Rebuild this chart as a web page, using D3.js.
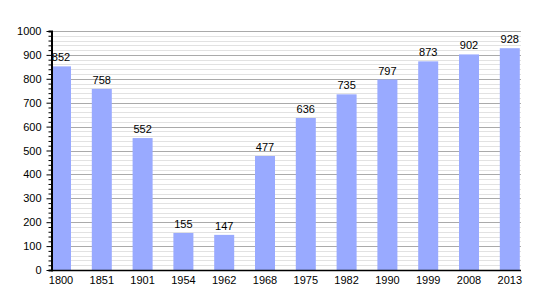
<!DOCTYPE html>
<html>
<head>
<meta charset="utf-8">
<script src="https://cdn.jsdelivr.net/npm/d3@7"></script>
<style>
  body { margin: 0; background: #fff; }
  svg text { font-family: "Liberation Sans", Arial, sans-serif; font-size: 11px; fill: #000; }
</style>
</head>
<body>
<div id="chart"></div>
<script>
// population by census year
const years = ["1800", "1851", "1901", "1954", "1962", "1968", "1975", "1982", "1990", "1999", "2008", "2013"];
const population = [852, 758, 552, 155, 147, 477, 636, 735, 797, 873, 902, 928];
const yTickValues = [0, 100, 200, 300, 400, 500, 600, 700, 800, 900, 1000];

const width = 550, height = 300;
const plotLeft = 51, plotRight = 521, plotTop = 31, plotBottom = 270;

const svg = d3.select('#chart')
  .append('svg')
  .attr('width', width)
  .attr('height', height);

const y = d3.scaleLinear().domain([0, 1000]).range([plotBottom, plotTop]);

// bars sit at the left of each band, last one ends at the plot edge
const x = d3.scaleBand()
  .domain(years)
  .range([plotLeft, plotLeft + 12 * 40.8])
  .padding(0);
const barW = 20;

// minor grid every 20
const minor = d3.range(20, 1001, 20).filter(v => v % 100 !== 0);
svg.append('g').selectAll('line')
  .data(minor).enter()
  .append('line')
  .attr('x1', plotLeft).attr('x2', plotRight)
  .attr('y1', d => Math.round(y(d)) + 0.5)
  .attr('y2', d => Math.round(y(d)) + 0.5)
  .attr('stroke', '#e2e2e2');

svg.append('g').selectAll('line')
  .data(yTickValues.slice(1)).enter()
  .append('line')
  .attr('x1', plotLeft).attr('x2', plotRight)
  .attr('y1', d => Math.round(y(d)) + 0.5)
  .attr('y2', d => Math.round(y(d)) + 0.5)
  .attr('stroke', '#aaaaaa');

svg.append('g').selectAll('rect')
  .data(population).enter()
  .append('rect')
  .attr('x', (d, i) => x(years[i]))
  .attr('y', d => y(d))
  .attr('width', barW)
  .attr('height', d => plotBottom - y(d))
  .attr('fill', '#99aaff');

svg.append('g').selectAll('text')
  .data(population).enter()
  .append('text')
  .attr('x', (d, i) => x(years[i]) + barW / 2)
  .attr('y', d => y(d) - 5)
  .attr('text-anchor', 'middle')
  .text(d => d);

// y axis: minor ticks every 20, labelled every 100
const yAxis = d3.axisLeft(y)
  .tickValues(d3.range(0, 1001, 20))
  .tickSize(3)
  .tickFormat(d => d % 100 === 0 ? d : '');
const gy = svg.append('g')
  .attr('transform', `translate(${plotLeft + 0.5},0)`)
  .call(yAxis);
gy.select('.domain').attr('stroke', '#000').attr('stroke-width', 2);
gy.selectAll('.tick line').attr('stroke', '#000');
gy.selectAll('.tick').filter(d => d % 100 === 0).select('line').attr('x2', -5);
gy.selectAll('.tick text')
  .attr('x', -10)
  .style('font-family', '"Liberation Sans", Arial, sans-serif')
  .style('font-size', '11px');

// x axis: only the line and labels
const xAxis = d3.axisBottom(x).tickSize(0).tickPadding(6);
const gx = svg.append('g')
  .attr('transform', `translate(0,${plotBottom + 0.5})`)
  .call(xAxis);
gx.select('.domain').attr('stroke', '#000').attr('stroke-width', 1.5)
  .attr('d', `M${plotLeft},0H${plotRight}`);
gx.selectAll('.tick')
  .attr('transform', d => `translate(${x(d) + barW / 2},0)`);
gx.selectAll('.tick text')
  .style('font-family', '"Liberation Sans", Arial, sans-serif')
  .style('font-size', '11px');
</script>
</body>
</html>
